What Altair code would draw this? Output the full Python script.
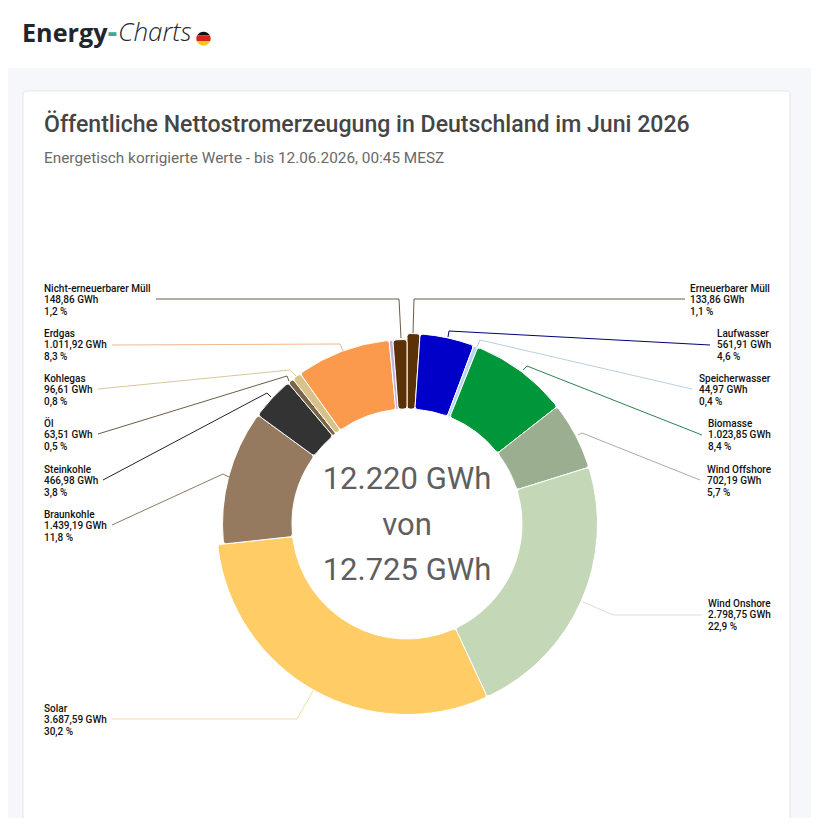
import altair as alt
import pandas as pd

# --- data, clockwise from the top ---
names = ["Erneuerbarer Müll", "Laufwasser", "Speicherwasser", "Biomasse", "Wind Offshore",
         "Wind Onshore", "Solar", "Braunkohle", "Steinkohle", "Öl", "Kohlegas", "Erdgas",
         "Sonstige", "Nicht-erneuerbarer Müll"]
values = [133.86, 561.91, 44.97, 1023.85, 702.19, 2798.75, 3687.59, 1439.19, 466.98, 63.51,
          96.61, 1011.92, 39.81, 148.86]
value_labels = ["133,86", "561,91", "44,97", "1.023,85", "702,19", "2.798,75", "3.687,59", "1.439,19",
                "466,98", "63,51", "96,61", "1.011,92", "", "148,86"]
percent_labels = ["1,1", "4,6", "0,4", "8,4", "5,7", "22,9", "30,2", "11,8", "3,8", "0,5", "0,8", "8,3", "", "1,2"]
colors = ["#5b3208", "#0000c8", "#b8d4ee", "#00963a", "#9cae90", "#c4d8b8", "#ffcc66", "#967a5f",
          "#333333", "#7a6548", "#d9c28a", "#fb9a4d", "#c0b0dc", "#5b3208"]
total = 12220
center_lines = ["12.220 GWh", "von", "12.725 GWh"]

df = pd.DataFrame({"name": names, "value": values, "order": list(range(len(names))), "color": colors})

# --- layout (page pixels; the page margin is taken off in px) ---
M = 8
W, H = 803, 810
CX, CY = 407, 524
R_BIG, R_SMALL, R_IN = 190.5, 184.5, 115
BIG_FIRST_SLICES = 7


def px(v):
    return v - M


label_pos = {
    "Erneuerbarer Müll": (690, 283), "Laufwasser": (717, 328), "Speicherwasser": (699, 373),
    "Biomasse": (708, 418), "Wind Offshore": (707, 464), "Wind Onshore": (708, 598),
    "Solar": (44, 703), "Braunkohle": (44, 509), "Steinkohle": (44, 464), "Öl": (44, 418),
    "Kohlegas": (44, 373), "Erdgas": (44, 328), "Nicht-erneuerbarer Müll": (44, 283),
}
leaders = {
    "Erneuerbarer Müll": ("#6b5d45", [(685, 299), (414, 299), (413, 333)]),
    "Laufwasser": ("#00007a", [(710, 345), (449, 331), (448, 337)]),
    "Speicherwasser": ("#b9cfe0", [(692, 389), (480, 340), (477, 347)]),
    "Biomasse": ("#2f7f4f", [(702, 435), (527, 366), (523, 370)]),
    "Wind Offshore": ("#a8b0a0", [(700, 480), (582, 433), (578, 435)]),
    "Wind Onshore": ("#d8e0d0", [(702, 615), (613, 615), (583, 602)]),
    "Solar": ("#f0dfa0", [(112, 719), (297, 719), (313, 691)]),
    "Braunkohle": ("#8a7a60", [(112, 525), (223, 474), (229, 477)]),
    "Steinkohle": ("#222222", [(103, 480), (267, 393), (271, 397)]),
    "Öl": ("#6b5d45", [(98, 434), (287, 376), (289, 381)]),
    "Kohlegas": ("#d8c79a", [(98, 389), (290, 370), (296, 376)]),
    "Erdgas": ("#f0b890", [(112, 345), (340, 344), (343, 351)]),
    "Nicht-erneuerbarer Müll": ("#6b5d45", [(156, 299), (399, 299), (401, 338)]),
}

one = alt.Data(values=[{"a": 1}])


def rect(x0, y0, x1, y1, color, **kw):
    return alt.Chart(one).mark_rect(color=color, **kw).encode(
        x=alt.value(px(x0)), x2=alt.value(px(x1)), y=alt.value(px(y0)), y2=alt.value(px(y1)))


def text(x, y, s, **kw):
    return alt.Chart(one).mark_text(align=kw.pop("align", "left"), baseline="alphabetic", **kw).encode(
        x=alt.value(px(x)), y=alt.value(px(y)), text=alt.value(s))


layers = [
    rect(0, 0, 819, 68, "#ffffff"),
    rect(23, 91, 790, 840, "#ffffff", stroke="#e4e5ea", strokeWidth=1, cornerRadius=3),
]

# logo
layers += [
    text(22, 42, "Energy", font="Open Sans", fontSize=25.2, fontWeight=700, color="#22262b"),
    text(107.5, 42, "-", font="Open Sans", fontSize=30, fontWeight=700, color="#3fa796"),
    text(118, 41, "Charts", font="Open Sans", fontSize=26, fontWeight=300, fontStyle="italic", color="#22262b"),
]
for shape, color in [("M-0.87,-0.4 A1,1 0 0 1 0.87,-0.4 Z", "#111111"),
                     ("M-0.87,-0.4 L0.87,-0.4 A1,1 0 0 1 0.92,0.33 L-0.92,0.33 A1,1 0 0 1 -0.87,-0.4 Z", "#d5261e"),
                     ("M-0.92,0.33 L0.92,0.33 A1,1 0 0 1 -0.92,0.33 Z", "#f5c518")]:
    layers.append(alt.Chart(one).mark_point(shape=shape, size=220, filled=True, opacity=1, color=color).encode(
        x=alt.value(px(203.5)), y=alt.value(px(38.5))))

# headings
layers += [
    text(44, 132, "Öffentliche Nettostromerzeugung in Deutschland im Juni 2026",
         font="Roboto", fontSize=23.1, fontWeight=500, color="#454545"),
    text(44, 163, "Energetisch korrigierte Werte - bis 12.06.2026, 00:45 MESZ",
         font="Roboto", fontSize=15.35, color="#6a6a6a"),
]

# donut
stacked = alt.Chart(alt.Data(values=df.to_dict("records"))).transform_stack(
    stack="value", groupby=[], as_=["s0", "s1"], sort=[alt.SortField("order")])
theta = alt.Theta("s0:Q", scale=alt.Scale(domain=[0, total], range=[0, 6.283185]))
theta2 = alt.Theta2("s1:Q")
fill = alt.Color("color:N", scale=None)


def ring(radius, flt):
    return stacked.transform_filter(flt).mark_arc(
        radius=radius, radius2=R_IN, cornerRadius=3, stroke="#ffffff", strokeWidth=1).encode(
        theta=theta, theta2=theta2, color=fill, x=alt.value(px(CX)), y=alt.value(px(CY)))


layers.append(ring(R_BIG, f"datum.order < {BIG_FIRST_SLICES}"))
layers.append(ring(R_SMALL, f"datum.order >= {BIG_FIRST_SLICES}"))

# center text
for i, line in enumerate(center_lines):
    layers.append(text(407, 489 + i * 45.7, line, align="center", font="Roboto", fontSize=31, color="#5f5f5f"))

# leaders and labels
for name, v, p in zip(names, value_labels, percent_labels):
    if name not in label_pos:
        continue
    col, pts = leaders[name]
    for (x0, y0), (x1, y1) in zip(pts, pts[1:]):
        layers.append(alt.Chart(one).mark_rule(color=col, strokeWidth=1).encode(
            x=alt.value(px(x0)), x2=alt.value(px(x1)), y=alt.value(px(y0)), y2=alt.value(px(y1))))
    lx, ly = label_pos[name]
    for j, s in enumerate([name, f"{v} GWh", f"{p} %"]):
        layers.append(text(lx, ly + 8.5 + j * 11.5, s, font="Roboto", fontSize=10, fontWeight=500, color="#111111"))

chart = alt.layer(*layers).properties(
    width=W, height=H, padding=0, background="#f6f7fb", autosize=alt.AutoSizeParams(type="none")
).configure_view(stroke=None)

chart.save("out.html", embed_options={"renderer": "svg", "actions": False})
